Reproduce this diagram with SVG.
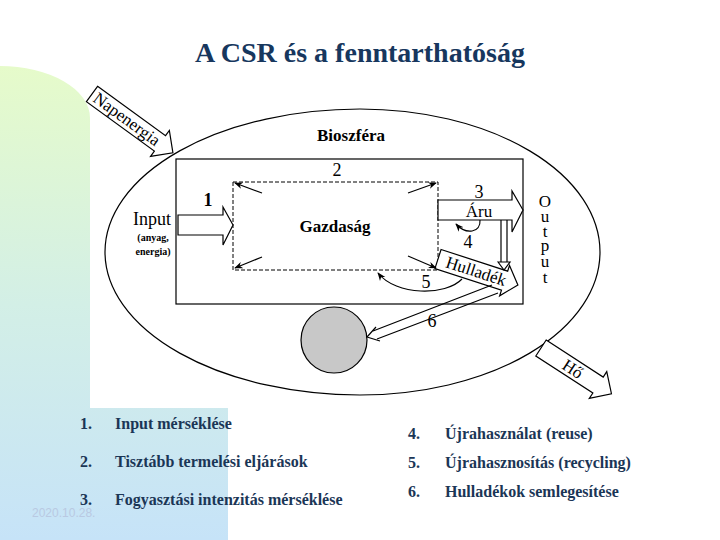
<svg xmlns="http://www.w3.org/2000/svg" width="720" height="540" viewBox="0 0 720 540">
<defs>
<linearGradient id="deco" x1="0" y1="66" x2="0" y2="540" gradientUnits="userSpaceOnUse">
<stop offset="0" stop-color="#e6fbca"/>
<stop offset="0.5" stop-color="#d3efe6"/>
<stop offset="1" stop-color="#c6e3f8"/>
</linearGradient>
<marker id="ah" viewBox="0 0 10 10" refX="9" refY="5" markerWidth="7" markerHeight="7" orient="auto">
<path d="M0,1 L10,5 L0,9 L3,5 Z" fill="#000"/>
</marker>
</defs>
<style>
.ln{fill:none;stroke:#000;stroke-width:1.2}
.blk{fill:#fff;stroke:#000;stroke-width:1.2}
.dash{fill:none;stroke:#000;stroke-width:1;stroke-dasharray:4,2}
</style>
<rect width="720" height="540" fill="#fff"/>
<path d="M0,66 A90,52 0 0 1 90,118 L90,408 L228,408 L228,540 L0,540 Z" fill="url(#deco)"/>
<text x="360" y="62" text-anchor="middle" font-family="'Liberation Serif','Times New Roman',serif" font-weight="bold" font-size="28" fill="#17375e">A CSR és a fenntarthatóság</text>
<text x="32" y="517" font-family="'Liberation Sans',Arial,sans-serif" font-size="12" fill="#b9c9e2">2020.10.28.</text>

<g font-family="'Liberation Serif','Times New Roman',serif" fill="#000">
<g id="biosphere">
<path class="ln" d="M360,109 A255,143 0 0 0 360,395 A240,143 0 0 0 360,109 Z"/>
<text x="351" y="141" text-anchor="middle" font-size="17" font-weight="bold">Bioszféra</text>
</g>
<g id="outer-box">
<rect class="ln" x="176" y="159" width="347" height="145"/>
</g>
<g id="gazdasag">
<rect class="dash" x="233" y="182" width="205" height="88"/>
<text x="335" y="232" text-anchor="middle" font-size="17" font-weight="bold">Gazdaság</text>
<text x="337" y="176" text-anchor="middle" font-size="18">2</text>
</g>
<g id="napenergia" transform="translate(92,94) rotate(36)">
<path class="blk" d="M0,-9.5 L84,-9.5 L84,-16 L100,0 L84,16 L84,9.5 L0,9.5 Z"/>
<text x="43" y="5.5" text-anchor="middle" font-size="17">Napenergia</text>
</g>
<g id="input">
<text x="152" y="225" text-anchor="middle" font-size="18">Input</text>
<text x="153" y="241" text-anchor="middle" font-size="10" font-weight="bold">(anyag,</text>
<text x="153" y="255" text-anchor="middle" font-size="10" font-weight="bold">energia)</text>
<text x="208" y="206" text-anchor="middle" font-size="18" font-weight="bold">1</text>
<path class="blk" d="M178,215 L223,215 L223,207 L233,225 L223,245 L223,235 L178,235 Z"/>
</g>
<g id="aru">
<path class="blk" d="M438,200 L512,200 L512,191 L523,210 L512,232 L512,220 L438,220 Z"/>
<text x="479" y="198" text-anchor="middle" font-size="18">3</text>
<text x="479" y="217" text-anchor="middle" font-size="17">Áru</text>
</g>
<g id="hulladek" transform="translate(438,259) rotate(18)">
<path class="blk" d="M0,-10 L70,-10 L70,-16 L84,0 L70,16 L70,10 L0,10 Z"/>
<text x="40" y="5.5" text-anchor="middle" font-size="17">Hulladék</text>
</g>
<g id="output" font-size="17" text-anchor="middle">
<text x="545" y="207">O</text>
<text x="545" y="222">u</text>
<text x="545" y="237">t</text>
<text x="545" y="251">p</text>
<text x="545" y="267">u</text>
<text x="545" y="283">t</text>
</g>
<g id="ho" transform="translate(541,348) rotate(33)">
<path class="blk" d="M0,-9.5 L68,-9.5 L68,-16 L84,0 L68,16 L68,9.5 L0,9.5 Z"/>
<text x="38" y="6" text-anchor="middle" font-size="17">Hő</text>
</g>
<g id="sink">
<circle cx="334" cy="340" r="33" fill="#c8c8c8" stroke="#000" stroke-width="1.2"/>
</g>
<g id="connectors">
<path class="ln" marker-end="url(#ah)" d="M262,193 L235,183"/>
<path class="ln" marker-end="url(#ah)" d="M408,193 L436,183"/>
<path class="ln" marker-end="url(#ah)" d="M262,257 L235,268"/>
<path class="ln" marker-end="url(#ah)" d="M408,256 L436,268"/>
<path class="ln" marker-end="url(#ah)" d="M480,220 C481,233 466,235 456,224"/>
<text x="468" y="248" text-anchor="middle" font-size="18">4</text>
<path class="ln" marker-end="url(#ah)" d="M462,279 C446,296 396,296 378,273"/>
<text x="426" y="288" text-anchor="middle" font-size="18">5</text>
<path class="ln" d="M501,220 L501,262 M507,220 L507,262"/>
<path class="blk" d="M498,262 L504,270 L510,262 Z"/>
<path class="ln" d="M492,285 L373,331 M498,293 L377,339"/>
<path class="ln" d="M376,327 L367,337 L380,341"/>
<text x="432" y="327" text-anchor="middle" font-size="18">6</text>
</g>
</g>
<g id="list" font-family="'Liberation Serif','Times New Roman',serif" font-weight="bold" font-size="16" fill="#1b3656">
<text x="80" y="429">1.</text>
<text x="115" y="429">Input mérséklése</text>
<text x="80" y="467">2.</text>
<text x="115" y="467">Tisztább termelési eljárások</text>
<text x="80" y="505">3.</text>
<text x="115" y="505">Fogyasztási intenzitás mérséklése</text>
<text x="408" y="439">4.</text>
<text x="445" y="439">Újrahasználat (reuse)</text>
<text x="408" y="468">5.</text>
<text x="445" y="468">Újrahasznosítás (recycling)</text>
<text x="408" y="497">6.</text>
<text x="445" y="497">Hulladékok semlegesítése</text>
</g>
</svg>
